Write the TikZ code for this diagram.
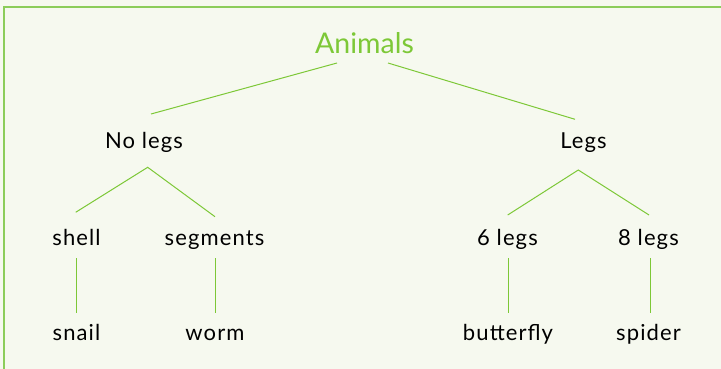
\documentclass[tikz,border=0pt]{standalone}
\usepackage{fontspec}
\setmainfont{Lato}
\newfontfamily\labfont[LetterSpace=5]{Lato}
\definecolor{bg}{RGB}{246,249,239}
\definecolor{lg}{RGB}{125,200,55}
\definecolor{fr}{RGB}{140,205,90}
\begin{document}
\begin{tikzpicture}[x=1pt,y=-1pt,
  lab/.style={anchor=base,inner sep=0pt,font=\labfont\fontsize{22}{26}\selectfont,text=black},
  root/.style={lab,font=\fontsize{28.5}{34}\selectfont,text=lg},
  conn/.style={draw=lg,line width=1pt}]
\fill[bg] (0,0) rectangle (721,369);
\useasboundingbox (0,0) rectangle (721,369);
\draw[fr,line width=1.5pt] (4,400) -- (4,7) -- (760,7);
% nodes
\node[root] (animals) at (364.5,53.3) {Animals};
\node[lab] (nolegs) at (144,148) {No legs};
\node[lab] (legs) at (583.5,148) {Legs};
\node[lab] (shell) at (76.5,245) {shell};
\node[lab] (segments) at (214.5,245) {segments};
\node[lab] (six) at (507.5,245) {6 legs};
\node[lab] (eight) at (648.5,245) {8 legs};
\node[lab] (snail) at (76.5,340.5) {snail};
\node[lab] (worm) at (215,340.5) {worm};
\node[lab] (butterfly) at (508,340.5) {butterfly};
\node[lab] (spider) at (648.5,340) {spider};
% connectors
\draw[conn] ([shift={(-27.5,9.7)}]animals.base) -- ([shift={(7,-34)}]nolegs.base);
\draw[conn] ([shift={(23.5,9.7)}]animals.base) -- ([shift={(-8.5,-28.7)}]legs.base);
\draw[conn] ([shift={(-0.8,-32.7)}]shell.base) -- ([shift={(3.7,19.3)}]nolegs.base) -- ([shift={(0.5,-28.3)}]segments.base);
\draw[conn] ([shift={(0.2,-30)}]six.base) -- ([shift={(-5.2,22)}]legs.base) -- ([shift={(0.5,-30)}]eight.base);
\draw[conn] ([shift={(0.2,13)}]shell.base) -- ([shift={(0.2,-27.5)}]snail.base);
\draw[conn] ([shift={(1.2,13)}]segments.base) -- ([shift={(0.7,-27.5)}]worm.base);
\draw[conn] ([shift={(0.8,13)}]six.base) -- ([shift={(0.3,-27.5)}]butterfly.base);
\draw[conn] ([shift={(1.5,13)}]eight.base) -- ([shift={(1.5,-27)}]spider.base);
\end{tikzpicture}
\end{document}
